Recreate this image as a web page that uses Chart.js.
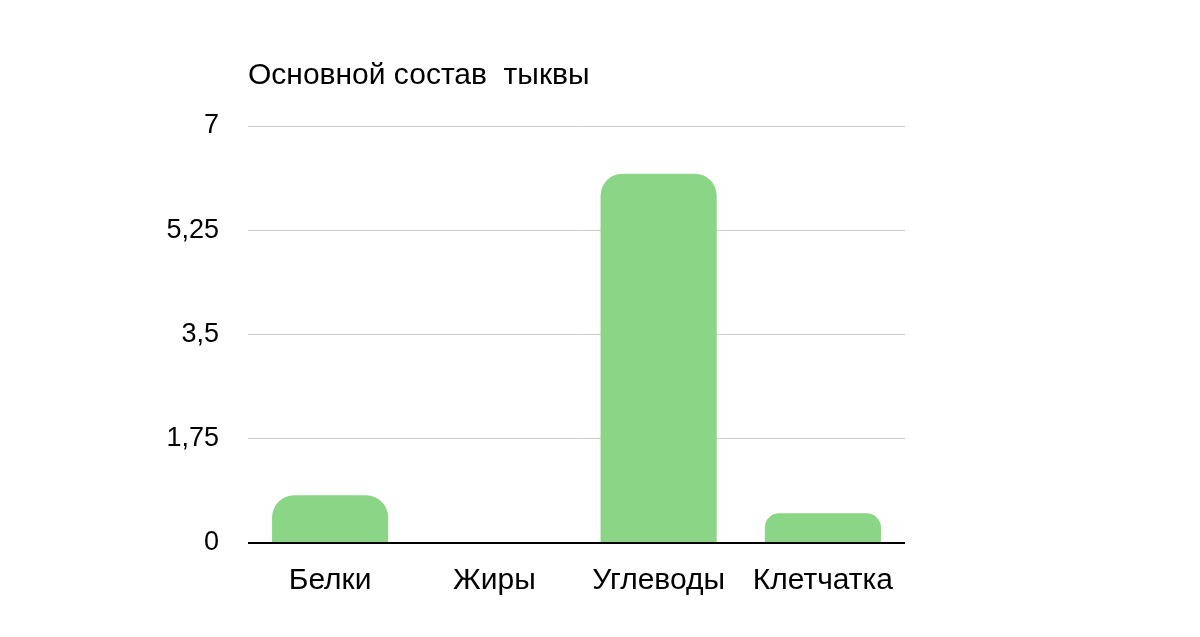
<!DOCTYPE html>
<html>
<head>
<meta charset="utf-8">
<script src="https://cdn.jsdelivr.net/npm/chart.js@4"></script>
<style>
html,body{margin:0;padding:0;background:#fff;}
#wrap{width:1200px;height:637px;}
</style>
</head>
<body>
<div id="wrap"><canvas id="c" width="1200" height="637"></canvas></div>
<script>
const categories = ['Белки', 'Жиры', 'Углеводы', 'Клетчатка'];
const values = [0.8, 0, 6.2, 0.5];
const chartTitle = 'Основной состав  тыквы';
const yMax = 7;
const yStep = 1.75;

const FONT = '"Liberation Sans", Arial, Helvetica, sans-serif';

const titlePlugin = {
  id: 'leftTitle',
  afterDraw(chart) {
    const ctx = chart.ctx;
    ctx.save();
    ctx.fillStyle = '#000';
    ctx.font = '30px ' + FONT;
    ctx.textBaseline = 'alphabetic';
    ctx.textAlign = 'left';
    ctx.fillText(chartTitle, chart.chartArea.left, 84);
    ctx.restore();
  }
};

new Chart(document.getElementById('c'), {
  type: 'bar',
  data: {
    labels: categories,
    datasets: [{
      data: values,
      backgroundColor: '#8BD586',
      borderWidth: 0,
      borderRadius: {topLeft: 22, topRight: 22, bottomLeft: 0, bottomRight: 0},
      borderSkipped: 'start',
      categoryPercentage: 1,
      barPercentage: 0.707
    }]
  },
  options: {
    responsive: false,
    animation: false,
    devicePixelRatio: 1,
    layout: { padding: { left: 0, right: 295, top: 126, bottom: 0 } },
    plugins: { legend: { display: false }, tooltip: { enabled: false }, title: { display: false } },
    scales: {
      x: {
        grid: { display: false },
        border: { display: false },
        ticks: { color: '#000', font: { family: FONT, size: 30 }, padding: 12, maxRotation: 0 },
        afterFit(scale) { scale.height = 94; }
      },
      y: {
        min: 0, max: yMax,
        border: { display: false },
        grid: {
          drawTicks: false,
          color: ctx => ctx.tick && ctx.tick.value === 0 ? '#000' : '#cccccc',
          lineWidth: ctx => ctx.tick && ctx.tick.value === 0 ? 2 : 1
        },
        ticks: {
          stepSize: yStep,
          color: '#000',
          font: { family: FONT, size: 27 },
          padding: 29,
          callback: v => String(v).replace('.', ',')
        },
        afterFit(scale) { scale.width = 248; }
      }
    }
  },
  plugins: [titlePlugin]
});
</script>
</body>
</html>
